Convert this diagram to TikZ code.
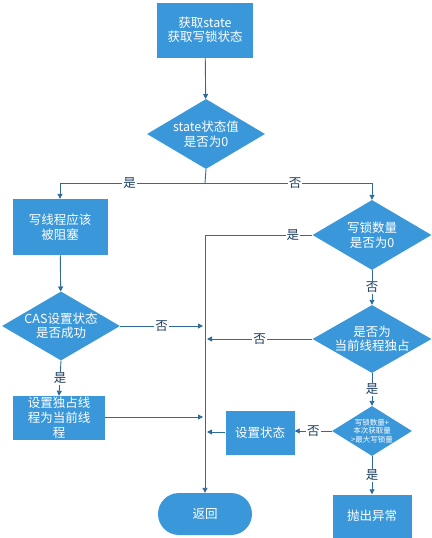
\documentclass[tikz,border=0pt]{standalone}
\usepackage{fontspec}
\setmainfont{Noto Sans CJK SC}
\usetikzlibrary{shapes.geometric,shapes.misc,arrows.meta}
\definecolor{boxblue}{HTML}{3A98DA}
\definecolor{linec}{HTML}{2F6A9A}
\definecolor{labc}{HTML}{1E3F5E}
\begin{document}
\begin{tikzpicture}[x=1pt,y=-1pt,
  every node/.style={font=\fontsize{12.5}{14.5}\selectfont},
  procbox/.style={rectangle,fill=boxblue,text=white,align=center,inner sep=0pt},
  decis/.style={diamond,fill=boxblue,inner sep=0pt},
  dtext/.style={text=white,align=center,inner sep=0pt},
  termin/.style={rounded rectangle,fill=boxblue,text=white,inner sep=0pt},
  conn/.style={draw=linec,line width=0.9pt},
  arr/.style={conn,-{Triangle[width=5pt,length=5pt]}},
  lab/.style={fill=white,text=labc,inner sep=1pt}]
\useasboundingbox (0,0) rectangle (431,538);
\node[procbox,minimum width=96pt,minimum height=55pt] (start) at (205,30) {获取state\\获取写锁状态};
\node[decis,minimum width=118pt,minimum height=70pt] (d1) at (206,134) {};
\node[dtext] (d1t) at (d1.center) {state状态值\\是否为0};
\node[procbox,minimum width=95pt,minimum height=56pt] (blk) at (60,227) {写线程应该\\被阻塞};
\node[decis,minimum width=119pt,minimum height=70pt] (d2) at (372,235) {};
\node[dtext] (d2t) at (d2.center) {写锁数量\\是否为0};
\node[decis,minimum width=118pt,minimum height=69pt] (cas) at (61,326) {};
\node[dtext] (cast) at (cas.center) {CAS设置状态\\是否成功};
\node[decis,minimum width=119pt,minimum height=68pt] (d3) at (372,339) {};
\node[dtext] (d3t) at (d3.center) {是否为\\当前线程独占};
\node[procbox,minimum width=92pt,minimum height=44pt] (own) at (59,418) {};
\node[dtext,font=\fontsize{12.5}{15}\selectfont] (owntext) at (own.center) {设置独占线\\程为当前线\\程};
\node[decis,minimum width=80pt,minimum height=50pt] (d4) at (372,431) {};
\node[dtext,font=\fontsize{7.5}{8.5}\selectfont] (d4t) at (d4.center) {写锁数量+\\本次获取量\\>最大写锁量};
\node[procbox,minimum width=69pt,minimum height=44pt] (setst) at (260,433) {设置状态};
\node[procbox,minimum width=79pt,minimum height=43pt] (throw) at (372,516) {抛出异常};
\node[termin,minimum width=94pt,minimum height=42pt] (ret) at (205,514) {返回};
\coordinate (j1) at (205,183);
\coordinate (m1) at (205,326);
\coordinate (m2) at (205,339);
\coordinate (m3) at (205,417);
\coordinate (m4) at (205,432);
\draw[arr] (start) -- (d1);
\draw[conn] (d1.south) -- (j1);
\draw[arr] (j1) -| node[lab,pos=0.26] {是} (blk.north);
\draw[arr] (j1) -| node[lab,pos=0.27] {否} (d2.north);
\draw[arr] (d2.west) -| node[lab,pos=0.09] {是} (ret.north);
\draw[arr] (blk) -- (cas);
\draw[arr] (cas.east) -- node[lab] {否} ([xshift=-2pt]m1);
\draw[arr] (d2.south) -- node[lab] {否} (d3.north);
\draw[arr] (d3.west) -- node[lab] {否} ([xshift=2pt]m2);
\draw[arr] (cas.south) -- node[lab] {是} (own.north);
\draw[arr] (own.east |- m3) -- ([xshift=-2pt]m3);
\draw[arr] (d3.south) -- node[lab] {是} (d4.north);
\draw[arr] (d4.west) -- node[lab] {否} (setst.east |- d4.west);
\draw[arr] (setst.west |- m4) -- ([xshift=2pt]m4);
\draw[arr] (d4.south) -- node[lab] {是} (throw.north);
\end{tikzpicture}
\end{document}
